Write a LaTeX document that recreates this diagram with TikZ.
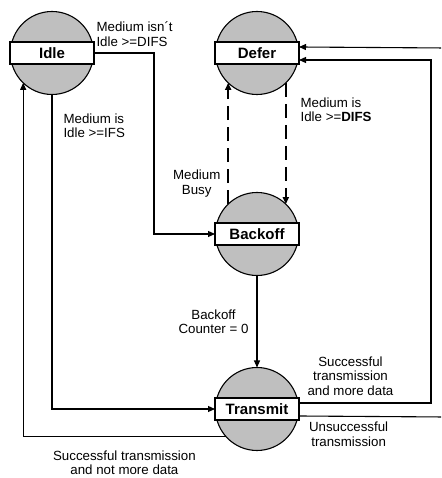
\documentclass[tikz,border=0pt]{standalone}
\usepackage{fontspec}
\setmainfont{Liberation Sans}
\usetikzlibrary{positioning, arrows.meta}

\tikzset{
  phase/.style 2 args={circle, draw, fill=gray!50, minimum size=83pt, inner sep=0pt, outer sep=0pt,
    label={[band, name=#1]center:#2}},
  band/.style={rectangle, draw, fill=white, minimum width=84pt, minimum height=22pt,
    inner sep=0pt, outer sep=0pt, font=\fontsize{15}{16}\selectfont\bfseries},
  lbl/.style={font=\fontsize{13.3}{14.5}\selectfont, inner sep=2pt},
  busy/.style={dash pattern=on 14pt off 7pt, line width=1.6pt},
}

\begin{document}
\begin{tikzpicture}[x=1pt, y=1pt, line width=1.1pt, node distance=2cm, on grid,
    >={Triangle[length=7pt,width=6pt]}]
    \path[use as bounding box] (0,0) rectangle (441,478);
    \clip (0,0) rectangle (441,478);

    \node[phase={b_idle}{Idle}] (q_idle) at (52,425) {};
    \node[phase={b_defer}{Defer}] (q_defer) [right=205pt of q_idle] {};
    \node[phase={b_back}{Backoff}] (q_back) [below=181pt of q_defer] {};
    \node[phase={b_tx}{Transmit}] (q_tx) [below=175pt of q_back] {};

    % the unsuccessful branch leaves on the right and comes back in at the top
    \coordinate (wrap_out) at (445,61);
    \coordinate (wrap_in) at (445,430);

    \draw[->] (b_idle.east) -- node[lbl, anchor=south west, align=left, pos=0, yshift=4pt]
        {Medium isn´t\\Idle >=DIFS} ++(60,0) |- (b_back.west);
    \draw[->] (q_idle.south) |- node[lbl, anchor=west, align=left, pos=0.05, xshift=9pt]
        {Medium is\\Idle >=IFS} (b_tx.west);
    \draw[->] (q_tx.221) -| node[lbl, anchor=north, align=center, pos=0.25, yshift=-12pt]
        {Successful transmission\\and not more data} (q_idle.226);
    \draw[->] (q_back.south) -- node[lbl, anchor=east, align=center, xshift=-6pt]
        {Backoff\\Counter = 0} (q_tx.north);

    \draw[->, busy] (q_defer.314) -- node[lbl, anchor=west, align=left, pos=0.22, xshift=12pt]
        {Medium is\\Idle >=\textbf{DIFS}} (q_back.46);
    \draw[->, busy] (q_back.134) -- node[lbl, anchor=east, align=center, pos=0.17, xshift=-5pt]
        {Medium\\Busy} (q_defer.226);

    \draw[->] ([yshift=6pt]b_tx.east) -- node[lbl, above, align=center, pos=0.39, yshift=5pt]
        {Successful\\transmission\\and more data} ++(132,0) |- ([yshift=-7pt]b_defer.east);
    \draw ([yshift=-7pt]b_tx.east) -- node[lbl, below, align=center, pos=0.34, yshift=-3pt]
        {Unsuccessful\\transmission} (wrap_out);
    \draw[->] (wrap_in) -- ([yshift=6pt]b_defer.east);
\end{tikzpicture}
\end{document}
